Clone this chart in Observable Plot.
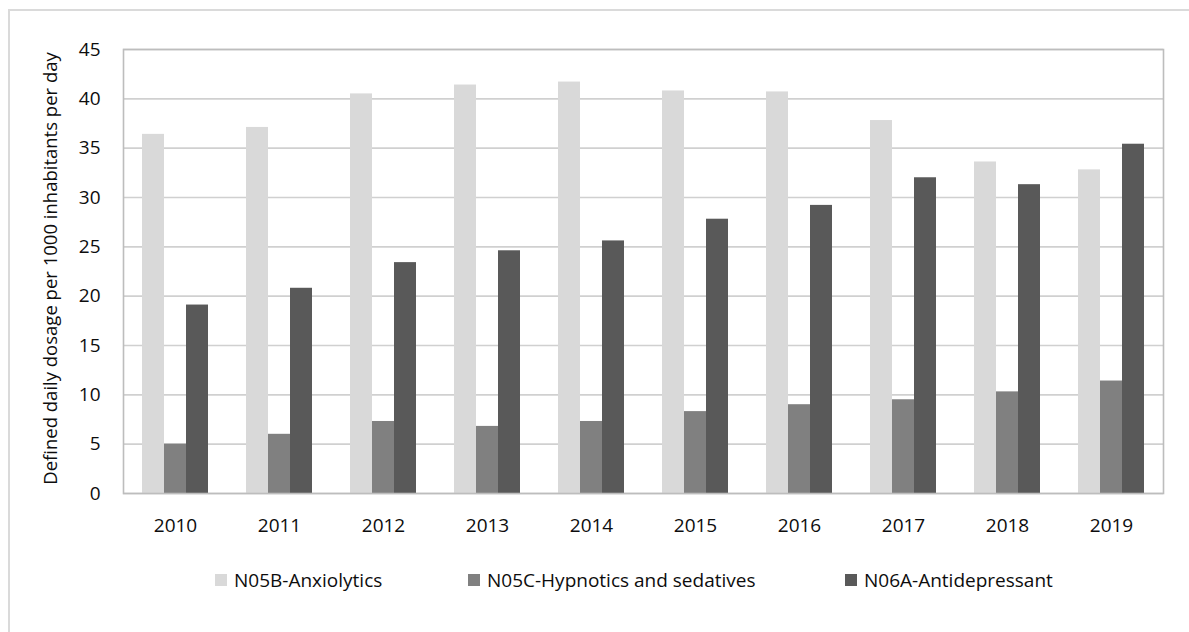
<!DOCTYPE html>
<html>
<head>
<meta charset="utf-8">
<script src="https://cdn.jsdelivr.net/npm/d3@7"></script>
<script src="https://cdn.jsdelivr.net/npm/@observablehq/plot@0.6"></script>
<style>
  html, body { margin: 0; padding: 0; background: #fff; overflow: hidden; }
  #wrap { position: relative; width: 1189px; height: 632px; font-family: "Open Sans", sans-serif; color: #0d0d0d; }
  #border { position: absolute; left: 8px; top: 9px; width: 1200px; height: 640px; border: 2px solid #dadada; box-sizing: border-box; }
  #chart { position: absolute; left: 0; top: 0; }
  #legend { position: absolute; left: 0; top: 566px; width: 1189px; height: 30px; font-size: 19px; }
  .item { position: absolute; top: 0; display: flex; align-items: center; height: 28px; white-space: nowrap; }
  .sw { width: 12px; height: 12px; margin-right: 7px; }
</style>
</head>
<body>
<div id="wrap">
  <div id="border"></div>
  <div id="chart"></div>
  <div id="legend"></div>
</div>
<script>
const years = ["2010","2011","2012","2013","2014","2015","2016","2017","2018","2019"];
const seriesNames = ["N05B-Anxiolytics", "N05C-Hypnotics and sedatives", "N06A-Antidepressant"];
const anxiolytics    = [36.4, 37.1, 40.5, 41.4, 41.7, 40.8, 40.7, 37.8, 33.6, 32.8];
const hypnotics      = [5.0, 6.0, 7.3, 6.8, 7.3, 8.3, 9.0, 9.5, 10.3, 11.4];
const antidepressant = [19.1, 20.8, 23.4, 24.6, 25.6, 27.8, 29.2, 32.0, 31.3, 35.4];
const seriesColors = ["#d9d9d9", "#808080", "#595959"];
const yTicks = [0, 5, 10, 15, 20, 25, 30, 35, 40, 45];
const yTitle = "Defined daily dosage per 1000 inhabitants per day";

const seriesValues = [anxiolytics, hypnotics, antidepressant];
const table = [];
years.forEach((yr, i) => {
  seriesNames.forEach((s, k) => table.push({year: yr, series: s, value: seriesValues[k][i]}));
});

const chart = Plot.plot({
  width: 1189,
  height: 560,
  marginLeft: 123,
  marginRight: 26,
  marginTop: 49,
  marginBottom: 67,
  style: {fontFamily: "Open Sans, sans-serif", fontSize: "19px", color: "#0d0d0d", background: "transparent", overflow: "visible"},
  fx: {domain: years, padding: 0, tickSize: 0, tickPadding: 25, label: null},
  x: {domain: seriesNames, paddingInner: 0, paddingOuter: 0.773, axis: null},
  y: {domain: [0, 45], ticks: yTicks, tickSize: 0, tickPadding: 23, label: null},
  color: {domain: seriesNames, range: seriesColors},
  marks: [
    Plot.ruleY(yTicks, {stroke: "#d0d0d0", strokeWidth: 1.6}),
    Plot.barY(table, {fx: "year", x: "series", y: "value", fill: "series"}),
    Plot.frame({facet: "super", stroke: "#bdbdbd", strokeWidth: 1.6}),
    Plot.text([yTitle], {facet: "super", text: d => d, frameAnchor: "left", textAnchor: "middle", lineAnchor: "middle", dx: -72, dy: -3, rotate: -90, fontSize: 18.5, fill: "#0d0d0d"})
  ]
});
document.getElementById("chart").appendChild(chart);

const legend = document.getElementById("legend");
const legendLefts = [215, 468, 845];
seriesNames.forEach((s, k) => {
  const it = document.createElement("div");
  it.className = "item";
  it.style.left = legendLefts[k] + "px";
  const sw = document.createElement("span");
  sw.className = "sw";
  sw.style.background = seriesColors[k];
  const tx = document.createElement("span");
  tx.textContent = s;
  it.appendChild(sw); it.appendChild(tx);
  legend.appendChild(it);
});
</script>
</body>
</html>
